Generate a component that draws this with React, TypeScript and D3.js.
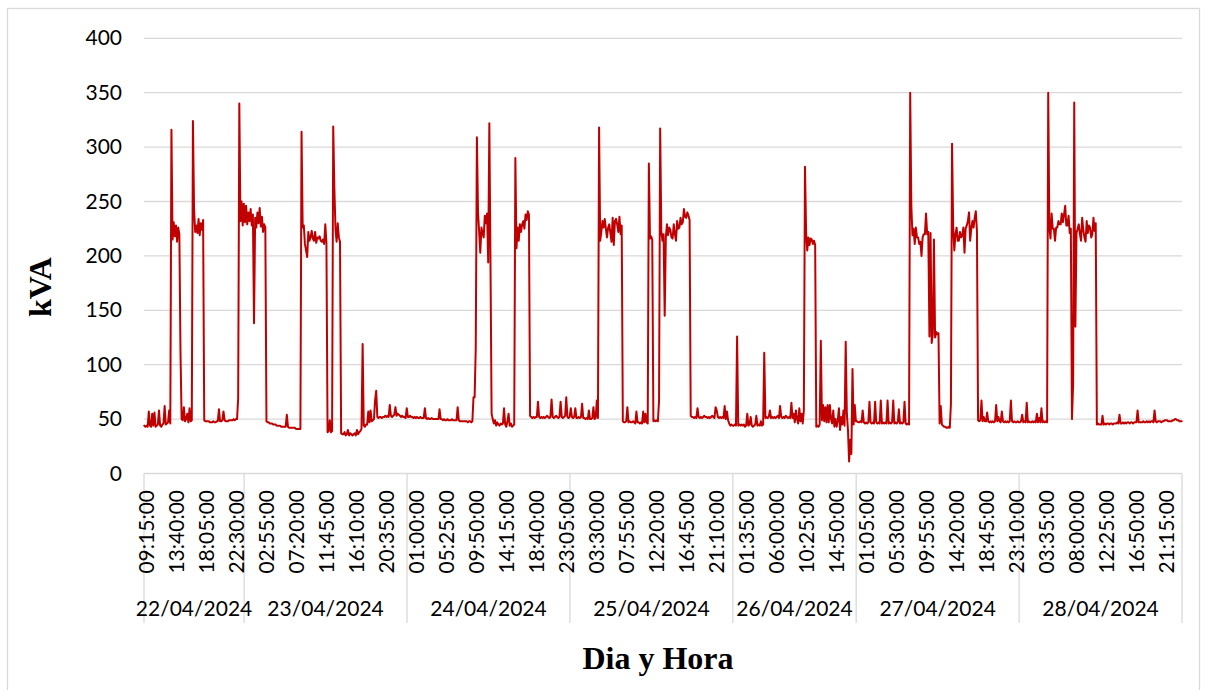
import React from 'react';
import * as d3 from 'd3';

// ---------- axis categories ----------
const DAYS = ['22/04/2024', '23/04/2024', '24/04/2024', '25/04/2024', '26/04/2024', '27/04/2024', '28/04/2024'];
const DAY_FIRST = ['09:15', '00:00', '00:00', '00:00', '00:00', '00:00', '00:00'];
const DAY_LAST = ['23:55', '23:55', '23:55', '23:55', '18:05', '23:55', '23:55'];
const TICK_INTERVAL = 53; // one time label every 53 categories (5-minute records)
const Y_TICKS = [0, 50, 100, 150, 200, 250, 300, 350, 400];

// ---------- readings (kVA), one value every 10 minutes ----------
const SAMPLE_FIRST = ['09:15', '00:05', '00:05', '00:05', '00:05', '00:05', '00:05'];
const SAMPLE_STEP = 10;

const kva_22_04 = [
  44, 43, 44, 43, 57,
  44, 43, 55, 44, 56, 43,
  44, 45, 58, 44, 43, 45,
  46, 62, 45, 46, 47, 58,
  46, 316, 215, 231, 218, 228,
  213, 226, 220, 112, 50, 49,
  61, 48, 50, 55, 47, 60,
  48, 49, 324, 243, 222, 228,
  221, 234, 219, 230, 224, 233,
  49, 48, 48, 48, 48, 47,
  47, 47, 48, 47, 47, 48,
  48, 59, 48, 48, 49, 57,
  49, 48, 48, 48, 49, 49,
  49, 49, 50, 49, 50, 50,
  69, 340, 232, 250, 228, 248,
];

const kva_23_04 = [
  231, 246, 229, 240, 232, 243,
  228, 238, 138, 235, 226, 240,
  230, 244, 227, 236, 222, 229,
  226, 48, 47, 47, 46, 46,
  46, 45, 45, 45, 44, 44,
  44, 44, 43, 43, 43, 43,
  43, 54, 43, 42, 42, 42,
  42, 42, 42, 41, 41, 41,
  41, 41, 314, 226, 228, 211,
  205, 199, 222, 214, 217, 223,
  216, 214, 222, 212, 217, 216,
  218, 214, 213, 215, 211, 229,
  212, 38, 39, 49, 38, 39,
  319, 263, 225, 213, 230, 217,
  213, 37, 36, 36, 38, 35,
  36, 40, 35, 37, 36, 35,
  36, 37, 35, 40, 36, 38,
  39, 41, 119, 44, 43, 45,
  45, 57, 47, 58, 48, 49,
  50, 67, 76, 52, 51, 52,
  52, 51, 52, 52, 53, 52,
  53, 52, 63, 53, 52, 53,
  54, 61, 53, 55, 54, 53,
  52, 53, 52, 52, 51, 60,
];

const kva_24_04 = [
  52, 52, 53, 52, 52, 51,
  52, 51, 52, 51, 51, 52,
  51, 51, 51, 60, 51, 50,
  51, 50, 50, 51, 50, 50,
  50, 50, 50, 50, 59, 50,
  50, 49, 50, 49, 49, 50,
  49, 49, 49, 50, 49, 49,
  49, 49, 61, 49, 48, 48,
  48, 48, 48, 48, 48, 47,
  48, 48, 47, 48, 70, 70,
  116, 309, 240, 222, 203, 226,
  221, 217, 237, 230, 239, 194,
  322, 196, 55, 50, 46, 49,
  44, 47, 45, 44, 46, 45,
  46, 60, 45, 43, 48, 55,
  44, 46, 43, 44, 45, 290,
  207, 226, 214, 229, 222, 229,
  232, 225, 238, 233, 241, 238,
  53, 52, 51, 52, 51, 52,
  52, 66, 52, 51, 52, 51,
  52, 51, 52, 53, 52, 51,
  52, 68, 52, 51, 52, 53,
  52, 51, 52, 66, 52, 51,
  52, 53, 70, 52, 51, 52,
];

const kva_25_04 = [
  60, 52, 51, 52, 60, 51,
  51, 52, 51, 52, 64, 51,
  51, 50, 51, 50, 58, 50,
  50, 51, 61, 50, 51, 67,
  51, 318, 214, 222, 232, 226,
  234, 225, 217, 226, 229, 221,
  213, 235, 210, 232, 234, 229,
  222, 236, 220, 228, 48, 47,
  47, 48, 61, 47, 48, 47,
  47, 48, 47, 46, 57, 47,
  47, 46, 47, 46, 57, 47,
  55, 47, 46, 285, 216, 218,
  215, 48, 49, 48, 49, 48,
  67, 317, 223, 214, 220, 145,
  217, 229, 219, 226, 224, 217,
  216, 229, 220, 214, 232, 225,
  226, 235, 229, 231, 243, 236,
  235, 240, 237, 233, 53, 52,
  52, 51, 52, 51, 60, 52,
  51, 52, 51, 52, 53, 52,
  52, 51, 52, 51, 52, 53,
  52, 51, 61, 58, 52, 51,
  52, 51, 52, 51, 62, 50,
  57, 49, 46, 44, 45, 44,
];

const kva_26_04 = [
  44, 45, 44, 126, 44, 45,
  44, 45, 44, 45, 43, 44,
  55, 44, 45, 52, 44, 43,
  44, 45, 53, 44, 45, 44,
  48, 44, 45, 111, 51, 52,
  51, 52, 58, 51, 52, 51,
  52, 51, 52, 53, 51, 62,
  52, 51, 52, 51, 53, 52,
  51, 52, 51, 65, 51, 55,
  47, 58, 50, 46, 60, 48,
  55, 46, 58, 282, 222, 205,
  217, 210, 216, 215, 211, 214,
  210, 43, 44, 43, 45, 122,
  49, 63, 48, 61, 47, 63,
  47, 63, 50, 46, 58, 43,
  50, 43, 49, 60, 40, 52,
  45, 58, 44, 121, 55, 40,
  11, 31, 18, 96, 45, 63,
  48,
];

const kva_27_04 = [
  48, 47, 47, 48, 47, 58,
  47, 46, 47, 46, 47, 66,
  47, 46, 47, 46, 66, 47,
  46, 47, 46, 67, 46, 47,
  46, 47, 46, 67, 46, 47,
  46, 47, 67, 46, 47, 46,
  47, 59, 46, 47, 46, 47,
  66, 46, 45, 46, 45, 350,
  246, 219, 225, 211, 226, 217,
  217, 211, 213, 200, 217, 220,
  220, 239, 220, 222, 126, 221,
  120, 128, 215, 125, 130, 128,
  129, 46, 62, 45, 44, 43,
  43, 42, 42, 43, 42, 64,
  303, 226, 205, 220, 226, 214,
  214, 222, 217, 219, 226, 203,
  225, 228, 232, 240, 214, 225,
  232, 226, 235, 241, 223, 49,
  48, 49, 67, 48, 52, 48,
  48, 56, 48, 47, 48, 47,
  48, 47, 48, 63, 48, 52,
  48, 47, 57, 48, 47, 48,
  47, 48, 47, 48, 67, 48,
  47, 48, 47, 47, 48, 47,
];

const kva_28_04 = [
  47, 48, 54, 47, 48, 47,
  65, 47, 48, 47, 47, 48,
  47, 48, 47, 55, 47, 51,
  47, 60, 47, 48, 47, 48,
  47, 350, 226, 216, 239, 225,
  225, 214, 226, 226, 232, 229,
  229, 239, 231, 238, 246, 228,
  228, 237, 221, 225, 50, 82,
  341, 135, 221, 225, 229, 220,
  214, 235, 224, 217, 213, 232,
  221, 228, 226, 217, 220, 235,
  223, 230, 45, 46, 45, 45,
  45, 53, 45, 46, 45, 46,
  46, 45, 46, 46, 45, 46,
  46, 46, 47, 46, 54, 46,
  46, 47, 46, 47, 46, 47,
  47, 46, 47, 47, 46, 47,
  47, 47, 58, 47, 47, 47,
  47, 48, 47, 47, 48, 47,
  48, 47, 48, 48, 47, 58,
  48, 47, 48, 48, 48, 47,
  48, 48, 49, 49, 49, 48,
  48, 48, 48, 49, 49, 50,
  50, 49, 49, 48, 48, 48,
];

const SERIES = [kva_22_04, kva_23_04, kva_24_04, kva_25_04, kva_26_04, kva_27_04, kva_28_04];

// ---------- helpers ----------
const toMin = (s: string) => +s.slice(0, 2) * 60 + +s.slice(3, 5);
const fmt = (m: number) =>
  `${String(Math.floor(m / 60)).padStart(2, '0')}:${String(m % 60).padStart(2, '0')}:00`;

type Cat = { day: string; time: string; key: string };
const categories: Cat[] = DAYS.flatMap((d, i) =>
  d3.range(toMin(DAY_FIRST[i]), toMin(DAY_LAST[i]) + 1, 5).map((m) => ({
    day: d,
    time: fmt(m),
    key: `${d} ${fmt(m)}`,
  }))
);

const points = SERIES.flatMap((vals, i) =>
  vals.map((v, k) => ({
    key: `${DAYS[i]} ${fmt(toMin(SAMPLE_FIRST[i]) + SAMPLE_STEP * k)}`,
    v,
  }))
);

// ---------- layout ----------
const W = 1206;
const H = 690;
const PLOT_L = 144;
const PLOT_R = 1182;
const Y0 = 473.5;
const Y400 = 38.3;
const AXIS_BOTTOM = 623;
const GRID = '#d9d9d9';
const LABEL_FONT = 'Lato, "Open Sans", sans-serif';
const TITLE_FONT = '"Liberation Serif", "Times New Roman", serif';

export default function App() {
  const x = d3
    .scaleBand<string>()
    .domain(categories.map((c) => c.key))
    .range([PLOT_L, PLOT_R])
    .padding(0);
  const bw = x.bandwidth();
  const y = d3.scaleLinear().domain([0, 400]).range([Y0, Y400]);

  const valid = points.filter((p) => x(p.key) !== undefined);
  const line = d3
    .line<{ key: string; v: number }>()
    .x((p) => (x(p.key) as number) + bw / 2)
    .y((p) => y(p.v));

  const dayBounds = DAYS.map((d, i) => {
    const first = categories.find((c) => c.day === d)!;
    const last = [...categories].reverse().find((c) => c.day === d)!;
    return { day: d, x0: x(first.key) as number, x1: (x(last.key) as number) + bw };
  });

  const tickCats = categories.filter((_, i) => i % TICK_INTERVAL === 0);

  return (
    <div style={{ position: 'absolute', left: 0, top: 0 }}>
      <svg width={W} height={H} style={{ display: 'block', background: '#fff' }}>
        <rect x={7.5} y={8.5} width={1192} height={690} fill="#fff" stroke={GRID} strokeWidth={1.3} />

        {/* gridlines */}
        {Y_TICKS.map((t) => (
          <line key={t} x1={PLOT_L} x2={PLOT_R} y1={y(t)} y2={y(t)} stroke={GRID} strokeWidth={1.3} />
        ))}

        {/* y labels */}
        {Y_TICKS.map((t) => (
          <text
            key={'l' + t}
            x={122}
            y={y(t) + 7}
            textAnchor="end"
            fontFamily={LABEL_FONT}
            fontSize={21}
            fill="#000"
          >
            {t}
          </text>
        ))}

        {/* category separators */}
        {dayBounds.map((b) => (
          <line key={'s' + b.day} x1={b.x0} x2={b.x0} y1={Y0} y2={AXIS_BOTTOM} stroke={GRID} strokeWidth={1.3} />
        ))}
        <line x1={PLOT_R} x2={PLOT_R} y1={Y0} y2={AXIS_BOTTOM} stroke={GRID} strokeWidth={1.3} />

        {/* time labels */}
        {tickCats.map((c) => {
          const cx = (x(c.key) as number) + bw / 2 + 2.4;
          return (
            <text
              key={'t' + c.key}
              transform={`translate(${cx + 7.5},490) rotate(-90)`}
              textAnchor="end"
              fontFamily={LABEL_FONT}
              fontSize={21}
              fill="#000"
            >
              {c.time}
            </text>
          );
        })}

        {/* date labels */}
        {dayBounds.map((b) => (
          <text
            key={'d' + b.day}
            x={(b.x0 + b.x1) / 2}
            y={616}
            textAnchor="middle"
            fontFamily={LABEL_FONT}
            fontSize={21}
            fill="#000"
          >
            {b.day}
          </text>
        ))}

        {/* series */}
        <path
          d={line(valid) || ''}
          fill="none"
          stroke="#C00000"
          strokeWidth={2}
          strokeLinejoin="round"
          strokeLinecap="round"
        />

        {/* axis titles */}
        <text
          transform="translate(51,287) rotate(-90)"
          textAnchor="middle"
          fontFamily={TITLE_FONT}
          fontWeight="bold"
          fontSize={32}
          fill="#000"
        >
          kVA
        </text>
        <text
          x={658}
          y={669}
          textAnchor="middle"
          fontFamily={TITLE_FONT}
          fontWeight="bold"
          fontSize={32}
          fill="#000"
        >
          Dia y Hora
        </text>
      </svg>
    </div>
  );
}
